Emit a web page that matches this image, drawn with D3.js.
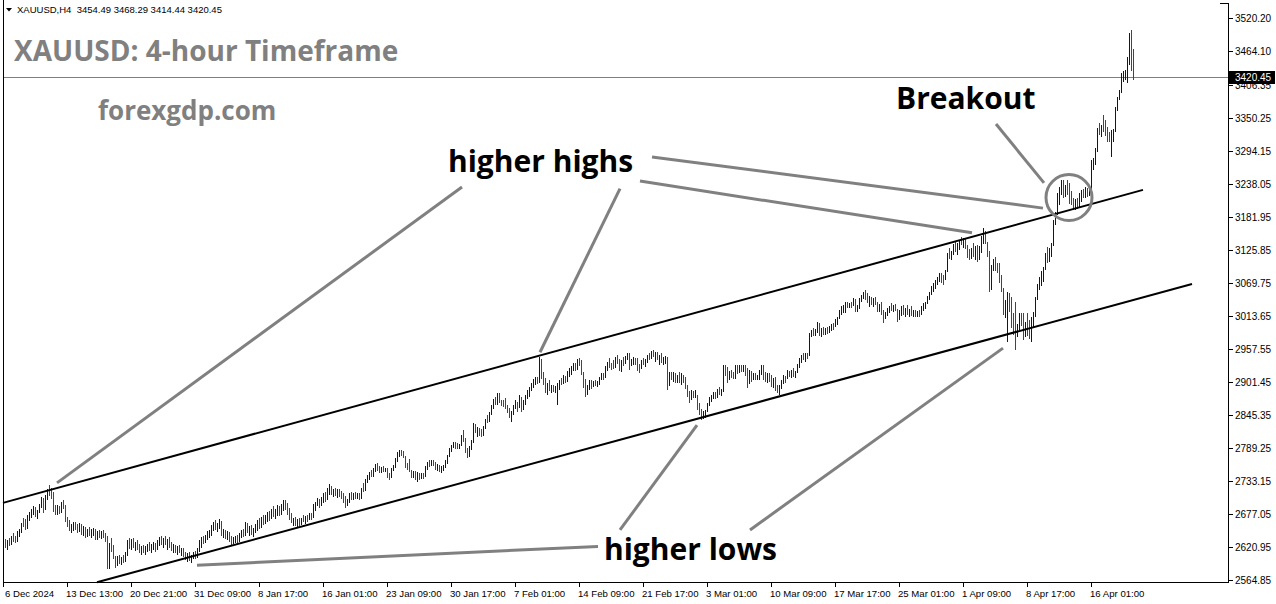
<!DOCTYPE html>
<html><head><meta charset="utf-8">
<script src="https://cdn.jsdelivr.net/npm/d3@7"></script>
<style>html,body{margin:0;padding:0;background:#fff;overflow:hidden}</style>
</head><body>
<svg id="c" width="1276" height="604"></svg>
<script>
// ---------------- DATA ----------------
const headerText = "XAUUSD,H4  3454.49 3468.29 3414.44 3420.45";
const firstOpen = 2622;
const highs = [
2636,2634,2633,2636,2640,2645,2640,2648,2652,2662,
2670,2668,2676,2680,2686,2690,2689,2684,2694,2706,
2705,2710,2720,2727,2722,2714,2693,2692,2690,2697,
2700,2692,2672,2666,2660,2663,2664,2660,2661,2660,
2656,2655,2652,2655,2651,2653,2652,2648,2650,2648,
2650,2645,2640,2628,2636,2625,2605,2606,2608,2604,
2607,2612,2632,2636,2634,2636,2630,2632,2626,2622,
2624,2622,2626,2630,2626,2630,2628,2632,2638,2640,
2636,2639,2634,2638,2630,2626,2624,2622,2624,2620,
2620,2612,2610,2612,2608,2612,2614,2620,2632,2638,
2640,2642,2648,2650,2658,2664,2666,2662,2668,2665,
2652,2650,2648,2646,2640,2638,2640,2642,2645,2650,
2652,2664,2662,2656,2658,2654,2660,2666,2670,2672,
2675,2676,2680,2682,2686,2690,2685,2692,2690,2694,
2700,2700,2695,2688,2678,2670,2672,2668,2670,2670,
2676,2674,2676,2679,2678,2694,2698,2704,2702,2706,
2712,2714,2722,2728,2724,2720,2722,2720,2720,2716,
2712,2708,2702,2712,2714,2712,2714,2712,2712,2722,
2730,2736,2744,2748,2752,2756,2762,2764,2758,2757,
2758,2756,2755,2746,2756,2760,2772,2783,2786,2786,
2784,2776,2764,2770,2752,2750,2750,2748,2747,2746,
2747,2758,2766,2768,2769,2768,2766,2762,2760,2758,
2760,2768,2777,2789,2795,2800,2799,2798,2796,2812,
2820,2806,2790,2792,2803,2832,2830,2825,2824,2822,
2826,2838,2845,2850,2862,2872,2876,2883,2882,2871,
2870,2874,2862,2858,2852,2862,2871,2868,2879,2876,
2870,2880,2888,2893,2900,2906,2910,2910,2944,2940,
2918,2908,2900,2905,2896,2896,2894,2900,2905,2908,
2913,2912,2920,2925,2928,2934,2933,2940,2942,2939,
2918,2906,2896,2905,2904,2903,2905,2903,2910,2917,
2916,2928,2936,2942,2934,2938,2944,2947,2940,2938,
2944,2946,2951,2950,2940,2944,2942,2942,2932,2938,
2942,2940,2948,2951,2954,2956,2952,2953,2948,2950,
2944,2946,2944,2919,2918,2919,2916,2914,2919,2916,
2914,2910,2897,2886,2888,2886,2888,2880,2866,2856,
2852,2854,2866,2876,2880,2885,2884,2890,2893,2890,
2931,2930,2927,2920,2922,2918,2931,2930,2931,2930,
2931,2930,2925,2922,2920,2917,2916,2914,2921,2931,
2930,2918,2916,2917,2913,2908,2910,2896,2896,2904,
2913,2912,2922,2920,2922,2925,2920,2932,2942,2948,
2951,2950,2951,2985,2990,2993,2992,3004,3002,2994,
2995,2994,2995,2996,3000,3002,3008,3012,3024,3030,
3032,3038,3038,3036,3038,3045,3042,3032,3044,3050,
3055,3058,3053,3048,3046,3044,3046,3038,3034,3038,
3024,3020,3027,3030,3036,3032,3034,3026,3024,3030,
3032,3028,3032,3026,3030,3024,3024,3022,3024,3030,
3036,3038,3048,3055,3064,3070,3075,3080,3087,3086,
3084,3092,3121,3129,3124,3136,3140,3138,3143,3148,
3146,3146,3135,3128,3130,3138,3132,3135,3132,3150,
3163,3158,3140,3124,3100,3110,3114,3104,3104,3084,
3061,3040,3055,3052,3046,3018,3038,3000,3019,3018,
3019,3004,3019,3007,3012,3021,3046,3068,3080,3090,
3097,3120,3131,3130,3138,3177,3191,3223,3233,3245,
3244,3236,3245,3240,3226,3214,3212,3214,3222,3228,
3230,3233,3232,3234,3279,3282,3300,3333,3342,3338,
3355,3347,3335,3326,3330,3332,3369,3386,3398,3427,
3430,3432,3454,3495,3500,3468.29];
const lows = [
2618,2620,2616,2622,2625,2630,2628,2630,2638,2645,
2655,2650,2652,2665,2670,2675,2672,2668,2678,2688,
2678,2684,2700,2708,2703,2680,2675,2676,2677,2678,
2685,2664,2655,2648,2645,2648,2650,2645,2646,2642,
2640,2636,2638,2640,2636,2640,2632,2633,2636,2635,
2636,2630,2584,2583,2612,2600,2586,2588,2592,2590,
2594,2595,2606,2618,2616,2620,2614,2616,2610,2608,
2610,2608,2612,2614,2610,2615,2612,2615,2622,2625,
2620,2624,2616,2620,2614,2610,2610,2608,2610,2606,
2604,2598,2596,2597,2594,2600,2601,2602,2612,2620,
2626,2628,2632,2636,2640,2648,2650,2646,2652,2640,
2636,2634,2632,2630,2624,2626,2628,2628,2630,2636,
2638,2640,2645,2640,2642,2638,2644,2648,2652,2654,
2658,2660,2664,2665,2668,2672,2668,2674,2674,2676,
2682,2684,2676,2666,2662,2656,2656,2654,2656,2658,
2664,2660,2664,2666,2666,2670,2682,2690,2688,2690,
2696,2698,2700,2710,2710,2706,2708,2704,2706,2702,
2696,2688,2690,2696,2700,2700,2702,2702,2700,2702,
2714,2716,2730,2734,2740,2740,2748,2750,2746,2747,
2748,2748,2738,2735,2738,2750,2756,2766,2774,2776,
2772,2756,2752,2748,2738,2738,2734,2732,2735,2736,
2737,2740,2752,2757,2758,2758,2752,2750,2748,2747,
2750,2756,2762,2774,2782,2789,2788,2788,2787,2792,
2800,2780,2772,2774,2786,2798,2814,2808,2810,2808,
2810,2822,2832,2833,2846,2856,2862,2862,2866,2860,
2859,2855,2849,2840,2834,2846,2855,2851,2858,2851,
2854,2862,2872,2876,2886,2892,2896,2898,2900,2906,
2896,2883,2880,2886,2883,2884,2883,2863,2888,2896,
2898,2900,2902,2910,2913,2920,2920,2922,2928,2913,
2892,2876,2880,2888,2890,2893,2894,2893,2896,2904,
2905,2908,2920,2926,2922,2924,2926,2932,2920,2919,
2928,2932,2938,2922,2928,2930,2930,2920,2917,2924,
2930,2927,2934,2938,2940,2944,2936,2938,2930,2934,
2930,2932,2888,2894,2904,2902,2900,2900,2900,2897,
2900,2890,2876,2866,2870,2874,2874,2854,2846,2837,
2838,2840,2850,2860,2868,2872,2872,2874,2880,2878,
2885,2912,2900,2904,2908,2906,2906,2915,2917,2918,
2918,2912,2891,2898,2902,2904,2905,2904,2905,2914,
2905,2902,2900,2902,2893,2891,2886,2883,2879,2890,
2898,2900,2906,2910,2908,2910,2908,2916,2926,2934,
2938,2936,2940,2946,2978,2980,2979,2984,2980,2978,
2981,2982,2983,2985,2988,2990,2995,2998,3008,3015,
3018,3019,3027,3027,3028,3030,3021,3021,3026,3038,
3042,3041,3036,3029,3032,3029,3032,3021,3021,3016,
3002,3008,3014,3019,3022,3020,3022,3004,3006,3014,
3016,3012,3016,3012,3014,3012,3012,3012,3012,3016,
3022,3026,3034,3040,3050,3055,3060,3066,3072,3070,
3066,3074,3088,3110,3109,3118,3122,3117,3126,3134,
3130,3128,3112,3109,3110,3114,3109,3106,3108,3120,
3136,3136,3114,3055,3058,3090,3090,3087,3070,3055,
3015,3010,2970,3020,2994,2982,2956,2978,2990,2996,
2973,2978,2980,2975,2970,2995,3012,3040,3058,3064,
3072,3092,3104,3106,3114,3132,3168,3186,3202,3220,
3214,3216,3219,3204,3202,3194,3194,3196,3198,3208,
3214,3214,3216,3218,3208,3262,3271,3292,3321,3318,
3327,3320,3310,3310,3284,3310,3327,3362,3380,3392,
3412,3414,3410,3440,3430,3414.44];
const closes = [
2632,2624,2630,2626,2638,2634,2631,2645,2650,2660,
2658,2654,2672,2677,2683,2688,2676,2682,2691,2703,
2681,2707,2716,2715,2706,2684,2680,2688,2680,2694,
2688,2668,2658,2652,2656,2660,2653,2649,2658,2646,
2652,2640,2648,2644,2648,2650,2636,2645,2641,2645,
2640,2634,2590,2620,2616,2605,2590,2602,2596,2600,
2598,2610,2628,2622,2630,2624,2626,2620,2614,2618,
2614,2620,2624,2618,2622,2626,2616,2630,2634,2628,
2632,2626,2630,2624,2618,2622,2614,2619,2612,2616,
2608,2602,2606,2600,2604,2610,2604,2618,2628,2634,
2630,2640,2644,2646,2655,2660,2654,2659,2664,2644,
2648,2638,2644,2634,2628,2634,2638,2632,2642,2646,
2642,2660,2650,2652,2646,2650,2656,2662,2656,2668,
2662,2672,2676,2669,2682,2676,2681,2688,2678,2690,
2696,2688,2680,2670,2666,2667,2660,2664,2659,2668,
2666,2672,2668,2676,2670,2690,2694,2700,2692,2702,
2708,2702,2718,2724,2712,2716,2714,2718,2710,2706,
2700,2692,2698,2710,2704,2708,2706,2710,2704,2720,
2718,2733,2741,2745,2742,2754,2760,2752,2750,2755,
2752,2754,2742,2740,2754,2758,2770,2780,2784,2778,
2775,2760,2756,2750,2742,2746,2738,2744,2740,2744,
2741,2756,2762,2760,2766,2762,2755,2758,2750,2755,
2758,2766,2775,2786,2792,2796,2794,2790,2793,2810,
2804,2784,2778,2790,2800,2828,2818,2820,2814,2812,
2824,2836,2834,2848,2860,2870,2866,2880,2870,2868,
2862,2858,2852,2844,2848,2860,2866,2862,2876,2856,
2868,2878,2884,2890,2898,2904,2908,2902,2938,2910,
2900,2888,2896,2890,2894,2886,2890,2896,2902,2900,
2910,2904,2918,2922,2926,2930,2924,2937,2932,2916,
2896,2882,2890,2902,2894,2900,2898,2899,2908,2914,
2910,2926,2934,2930,2928,2926,2942,2936,2924,2934,
2930,2944,2948,2926,2936,2940,2934,2924,2922,2936,
2934,2938,2946,2942,2952,2948,2950,2942,2946,2938,
2942,2944,2894,2914,2908,2914,2904,2910,2906,2912,
2904,2894,2880,2872,2884,2878,2882,2858,2850,2842,
2848,2852,2864,2874,2878,2882,2876,2888,2884,2886,
2926,2916,2904,2916,2912,2910,2928,2920,2928,2922,
2928,2916,2896,2918,2906,2914,2910,2912,2918,2928,
2908,2906,2912,2908,2896,2902,2890,2886,2894,2902,
2910,2906,2918,2912,2920,2914,2918,2930,2940,2944,
2942,2948,2946,2982,2986,2984,2990,2998,2984,2990,
2986,2992,2988,2994,2998,2996,3006,3010,3022,3026,
3028,3034,3030,3034,3032,3042,3024,3028,3042,3048,
3052,3046,3040,3044,3036,3040,3034,3026,3030,3018,
3008,3018,3022,3028,3026,3030,3024,3008,3020,3028,
3020,3024,3018,3022,3016,3020,3016,3020,3014,3028,
3034,3036,3046,3052,3062,3066,3072,3078,3082,3074,
3072,3090,3118,3114,3120,3132,3126,3134,3140,3138,
3144,3132,3116,3112,3126,3118,3128,3110,3128,3146,
3156,3140,3118,3062,3094,3106,3094,3090,3074,3060,
3020,3036,3050,3024,3000,2990,2970,2984,3014,3004,
2980,3000,2986,2980,3008,3018,3042,3064,3076,3086,
3094,3116,3108,3126,3134,3172,3188,3220,3228,3240,
3218,3232,3224,3210,3206,3198,3208,3200,3218,3224,
3218,3228,3226,3230,3276,3280,3296,3328,3326,3334,
3330,3324,3314,3312,3326,3330,3366,3382,3394,3424,
3428,3430,3448,3490,3454.49,3420.45];

const xTickBars = [0,32,64,96,128,160,192,224,256,288,320,352,384,416,448,480,512,544];
const xTickLabels = ["6 Dec 2024","13 Dec 13:00","20 Dec 21:00","31 Dec 09:00","8 Jan 17:00","16 Jan 01:00","23 Jan 09:00","30 Jan 17:00","7 Feb 01:00","14 Feb 09:00","21 Feb 17:00","3 Mar 01:00","10 Mar 09:00","17 Mar 17:00","25 Mar 01:00","1 Apr 09:00","8 Apr 17:00","16 Apr 01:00"];
const yTickValues = [3520.20,3464.10,3406.35,3350.25,3294.15,3238.05,3181.95,3125.85,3069.75,3013.65,2957.55,2901.45,2845.35,2789.25,2733.15,2677.05,2620.95,2564.85];
const lastPrice = 3420.45;

// trend channel lines: [bar index, price]
const channelUpper = [[0, 2696], [570, 3228]];
const channelLower = [[47, 2561], [594.5, 3068]];
// gray pointer lines: [bar, price] -> [bar, price]
const pointerLines = [
  [[27, 2730], [229.5, 3233]],
  [[268.5, 2952], [308.5, 3230]],
  [[324.5, 3284], [520, 3197]],
  [[318.5, 3243], [484.5, 3155]],
  [[308.5, 2650], [347, 2828]],
  [[373.5, 2650], [500, 2959]],
  [[97, 2590], [297.5, 2622]],
  [[496.5, 3340], [520.5, 3240]]
];
const breakoutCircle = [533, 3215];
const labels = [
  {text: "higher highs", bar: 222.5, price: 3258},
  {text: "higher lows", bar: 300.5, price: 2599},
  {text: "Breakout", bar: 446.5, price: 3365}
];

// ---------------- DRAW ----------------
const svg = d3.select("#c");
const plotLeft = 3, plotRight = 1228, plotBottom = 582;

const x = d3.scaleLinear().domain([0, 565]).range([3, 1133]);
const y = d3.scaleLinear().domain([2564.85, 3520.20]).range([580, 18]);

const bars = closes.map((c, i) => ({
  i, h: highs[i], l: lows[i], c, o: i === 0 ? firstOpen : closes[i - 1]
}));

// current price line
svg.append("line")
  .attr("x1", plotLeft).attr("x2", plotRight)
  .attr("y1", Math.round(y(lastPrice)) + 0.5).attr("y2", Math.round(y(lastPrice)) + 0.5)
  .attr("stroke", "#808080").attr("stroke-width", 1).attr("shape-rendering", "crispEdges");

// bars
svg.append("g").attr("shape-rendering", "crispEdges")
  .selectAll("line").data(bars).join("line")
  .attr("x1", d => Math.round(x(d.i)) + 0.5)
  .attr("x2", d => Math.round(x(d.i)) + 0.5)
  .attr("y1", d => Math.round(y(d.h)))
  .attr("y2", d => Math.max(Math.round(y(d.l)), Math.round(y(d.h)) + 1))
  .attr("stroke", d => d.c >= d.o ? "#0000c8" : "#e60000")
  .attr("stroke-width", 1);

// channel
const lineGen = d3.line().x(d => x(d[0])).y(d => y(d[1]));
[channelUpper, channelLower].forEach(l => {
  svg.append("path").attr("d", lineGen(l)).attr("fill", "none")
    .attr("stroke", "#000").attr("stroke-width", 2);
});

// pointer lines
pointerLines.forEach(l => {
  svg.append("path").attr("d", lineGen(l)).attr("fill", "none")
    .attr("stroke", "#808080").attr("stroke-width", 3);
});
svg.append("circle")
  .attr("cx", x(breakoutCircle[0])).attr("cy", y(breakoutCircle[1])).attr("r", 23)
  .attr("fill", "none").attr("stroke", "#808080").attr("stroke-width", 3);

// labels
labels.forEach(lb => {
  svg.append("text").attr("x", x(lb.bar)).attr("y", y(lb.price))
    .attr("font-family", "'Open Sans', sans-serif").attr("font-weight", 700)
    .attr("font-size", 30).attr("fill", "#000").text(lb.text);
});

// title + site
svg.append("text").attr("x", 14).attr("y", 61)
  .attr("font-family", "'Open Sans', sans-serif").attr("font-weight", 700)
  .attr("font-size", 28).attr("fill", "#808080").text("XAUUSD: 4-hour Timeframe");
svg.append("text").attr("x", 98).attr("y", 120)
  .attr("font-family", "'Open Sans', sans-serif").attr("font-weight", 700)
  .attr("font-size", 26).attr("fill", "#808080").text("forexgdp.com");

// frame
svg.append("line").attr("x1", 3.5).attr("x2", 3.5).attr("y1", 0).attr("y2", plotBottom + 0.5)
  .attr("stroke", "#000").attr("shape-rendering", "crispEdges");
svg.append("line").attr("x1", 3).attr("x2", plotRight + 1).attr("y1", plotBottom + 0.5).attr("y2", plotBottom + 0.5)
  .attr("stroke", "#000").attr("shape-rendering", "crispEdges");
svg.append("line").attr("x1", plotRight + 0.5).attr("x2", plotRight + 0.5).attr("y1", 3).attr("y2", plotBottom + 0.5)
  .attr("stroke", "#000").attr("shape-rendering", "crispEdges");
svg.append("line").attr("x1", plotRight - 8).attr("x2", plotRight + 1).attr("y1", 3.5).attr("y2", 3.5)
  .attr("stroke", "#000").attr("shape-rendering", "crispEdges");

// y axis (the 3406.35 label sits under the last-price box, as in the reference)
const axisFont = "'Liberation Sans', Arial, sans-serif";
const yG = svg.append("g");
const ly = Math.round(y(lastPrice));
yTickValues.forEach(v => {
  const yy = Math.round(y(v)) + 0.5;
  yG.append("line").attr("x1", plotRight + 1).attr("x2", plotRight + 5).attr("y1", yy).attr("y2", yy)
    .attr("stroke", "#000").attr("shape-rendering", "crispEdges");
  yG.append("text").attr("x", plotRight + 7).attr("y", yy + 3.5)
    .attr("font-family", axisFont).attr("font-size", 10).attr("fill", "#000").text(v.toFixed(2));
});
// last price box
svg.append("rect").attr("x", plotRight + 1).attr("y", ly - 6).attr("width", 46).attr("height", 13).attr("fill", "#000");
svg.append("text").attr("x", plotRight + 7).attr("y", ly + 4)
  .attr("font-family", axisFont).attr("font-size", 10).attr("fill", "#fff").text(lastPrice.toFixed(2));

// x axis
const xG = svg.append("g");
xTickBars.forEach((b, k) => {
  const xx = Math.round(x(b)) + 0.5;
  xG.append("line").attr("x1", xx).attr("x2", xx).attr("y1", plotBottom).attr("y2", plotBottom + 5)
    .attr("stroke", "#000").attr("shape-rendering", "crispEdges");
  xG.append("text").attr("x", Math.max(xx - 1.5, 5)).attr("y", 597)
    .attr("font-family", axisFont).attr("font-size", 9.6).attr("fill", "#000").text(xTickLabels[k]);
});

// header
svg.append("path").attr("d", "M6,8 L12,8 L9,11.5 Z").attr("fill", "#000");
svg.append("text").attr("x", 17).attr("y", 13).style("white-space", "pre")
  .attr("font-family", axisFont).attr("font-size", 9.5).attr("fill", "#000").text(headerText);
</script>
</body></html>
